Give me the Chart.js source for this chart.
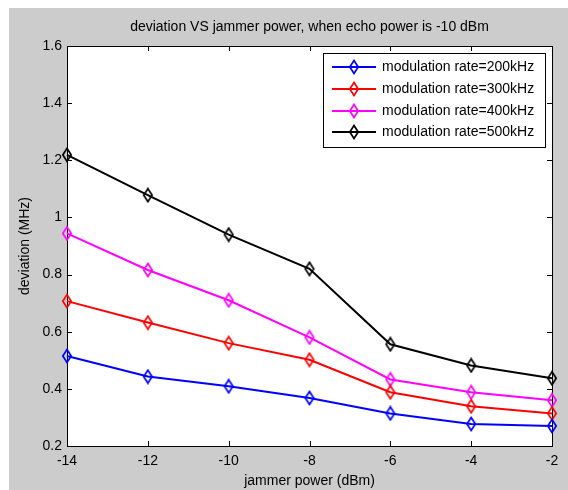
<!DOCTYPE html>
<html>
<head>
<meta charset="utf-8">
<script src="https://cdn.jsdelivr.net/npm/chart.js@4/dist/chart.umd.min.js"></script>
<style>
html,body{margin:0;padding:0;background:#fff;}
#wrap{width:568px;height:490px;position:relative;}
</style>
</head>
<body>
<div id="wrap"><canvas id="c" width="568" height="490"></canvas></div>
<script>
const jammerPower = [-14, -12, -10, -8, -6, -4, -2];
const rate200 = [0.515, 0.443, 0.409, 0.368, 0.314, 0.277, 0.270];
const rate300 = [0.707, 0.632, 0.560, 0.502, 0.388, 0.339, 0.314];
const rate400 = [0.944, 0.816, 0.710, 0.580, 0.433, 0.388, 0.360];
const rate500 = [1.219, 1.078, 0.940, 0.820, 0.556, 0.482, 0.437];
const seriesLabels = ['modulation rate=200kHz', 'modulation rate=300kHz', 'modulation rate=400kHz', 'modulation rate=500kHz'];
const seriesColors = ['#0000ff', '#ff0000', '#ff00ff', '#000000'];
const xTicks = [-14, -12, -10, -8, -6, -4, -2];
const yTicks = [0.2, 0.4, 0.6, 0.8, 1.0, 1.2, 1.4, 1.6];
const titleText = 'deviation VS jammer power, when echo power is -10 dBm';
const xTitle = 'jammer power (dBm)';
const yTitle = 'deviation (MHz)';

const FONT = 'Liberation Sans, Arial, sans-serif';
const allSeries = [rate200, rate300, rate400, rate500];

// narrow MATLAB-like diamond marker image
function makeDiamond(color) {
  const c = document.createElement('canvas');
  c.width = 12; c.height = 16;
  const g = c.getContext('2d');
  g.strokeStyle = color;
  g.lineWidth = 1.7;
  g.beginPath();
  g.moveTo(6, 1.5);
  g.lineTo(10.2, 8);
  g.lineTo(6, 14.5);
  g.lineTo(1.8, 8);
  g.closePath();
  g.stroke();
  return c;
}
const markers = seriesColors.map(makeDiamond);

const datasets = allSeries.map((vals, i) => ({
  label: seriesLabels[i],
  data: vals.map((v, j) => ({x: jammerPower[j], y: v})),
  borderColor: seriesColors[i],
  backgroundColor: 'rgba(0,0,0,0)',
  borderWidth: 2,
  pointStyle: markers[i],
  pointRadius: 6,
  tension: 0,
  clip: false
}));

const matlabPlugin = {
  id: 'matlab',
  beforeDraw(chart) {
    const ctx = chart.ctx;
    const a = chart.chartArea;
    ctx.save();
    ctx.fillStyle = '#ffffff';
    ctx.fillRect(0, 0, chart.width, chart.height);
    ctx.fillStyle = '#cccccc';
    ctx.fillRect(9, 8, chart.width - 9, chart.height - 8);
    ctx.fillStyle = '#ffffff';
    ctx.fillRect(a.left, a.top, a.right - a.left, a.bottom - a.top);
    ctx.fillStyle = '#000';
    ctx.font = '14px ' + FONT;
    ctx.textAlign = 'center';
    ctx.textBaseline = 'middle';
    ctx.fillText(titleText, (a.left + a.right) / 2, 27);
    ctx.restore();
  },
  beforeDatasetsDraw(chart) {
    const ctx = chart.ctx;
    const a = chart.chartArea;
    const xs = chart.scales.x, ys = chart.scales.y;
    ctx.save();
    ctx.strokeStyle = '#000';
    ctx.lineWidth = 1;
    ctx.beginPath();
    xTicks.forEach(v => {
      const px = Math.round(xs.getPixelForValue(v)) + 0.5;
      ctx.moveTo(px, a.bottom); ctx.lineTo(px, a.bottom - 5);
      ctx.moveTo(px, a.top); ctx.lineTo(px, a.top + 5);
    });
    yTicks.forEach(v => {
      const py = Math.round(ys.getPixelForValue(v)) + 0.5;
      ctx.moveTo(a.left, py); ctx.lineTo(a.left + 5, py);
      ctx.moveTo(a.right, py); ctx.lineTo(a.right - 5, py);
    });
    ctx.stroke();
    ctx.strokeRect(Math.round(a.left) + 0.5, Math.round(a.top) + 0.5, Math.round(a.right - a.left), Math.round(a.bottom - a.top));
    ctx.restore();
  },
  afterDraw(chart) {
    const ctx = chart.ctx;
    ctx.save();
    const bx = 323, by = 53, bw = 222, bh = 94;
    ctx.fillStyle = '#fff';
    ctx.fillRect(bx, by, bw, bh);
    ctx.strokeStyle = '#000';
    ctx.lineWidth = 1;
    ctx.strokeRect(bx + 0.5, by + 0.5, bw, bh);
    const rows = [67, 89, 111, 132];
    chart.data.datasets.forEach((ds, i) => {
      const y = rows[i];
      ctx.strokeStyle = ds.borderColor;
      ctx.lineWidth = 2;
      ctx.beginPath();
      ctx.moveTo(332, y); ctx.lineTo(376, y);
      ctx.stroke();
      ctx.drawImage(markers[i], 354 - 6, y - 8);
      ctx.fillStyle = '#000';
      ctx.font = '14px ' + FONT;
      ctx.textAlign = 'left';
      ctx.textBaseline = 'middle';
      ctx.fillText(ds.label, 382, y + 0.5);
    });
    ctx.restore();
  }
};

new Chart(document.getElementById('c'), {
  type: 'line',
  data: { datasets },
  options: {
    responsive: false,
    animation: false,
    devicePixelRatio: 1,
    layout: { padding: { top: 46, right: 16, left: 0, bottom: 0 } },
    plugins: { legend: { display: false }, title: { display: false }, tooltip: { enabled: false } },
    scales: {
      x: {
        type: 'linear',
        min: -14, max: -2,
        afterBuildTicks(scale) { scale.ticks = xTicks.map(v => ({value: v})); },
        afterFit(scale) { scale.height = 44; },
        grid: { display: false, drawTicks: false },
        border: { display: false },
        ticks: { padding: 7, color: '#000', font: { family: FONT, size: 14 }, callback: v => String(v), maxRotation: 0, autoSkip: false },
        title: { display: true, text: xTitle, color: '#000', font: { family: FONT, size: 14 }, padding: { top: 0, bottom: 0 } }
      },
      y: {
        type: 'linear',
        min: 0.2, max: 1.6,
        afterBuildTicks(scale) { scale.ticks = yTicks.map(v => ({value: v})); },
        afterFit(scale) { scale.width = 67; },
        grid: { display: false, drawTicks: false },
        border: { display: false },
        ticks: { padding: 5, color: '#000', font: { family: FONT, size: 14 }, callback: v => String(+v.toFixed(1)), autoSkip: false },
        title: { display: true, text: yTitle, color: '#000', font: { family: FONT, size: 14 }, padding: { top: 17, bottom: 0 } }
      }
    }
  },
  plugins: [matlabPlugin]
});
</script>
</body>
</html>
